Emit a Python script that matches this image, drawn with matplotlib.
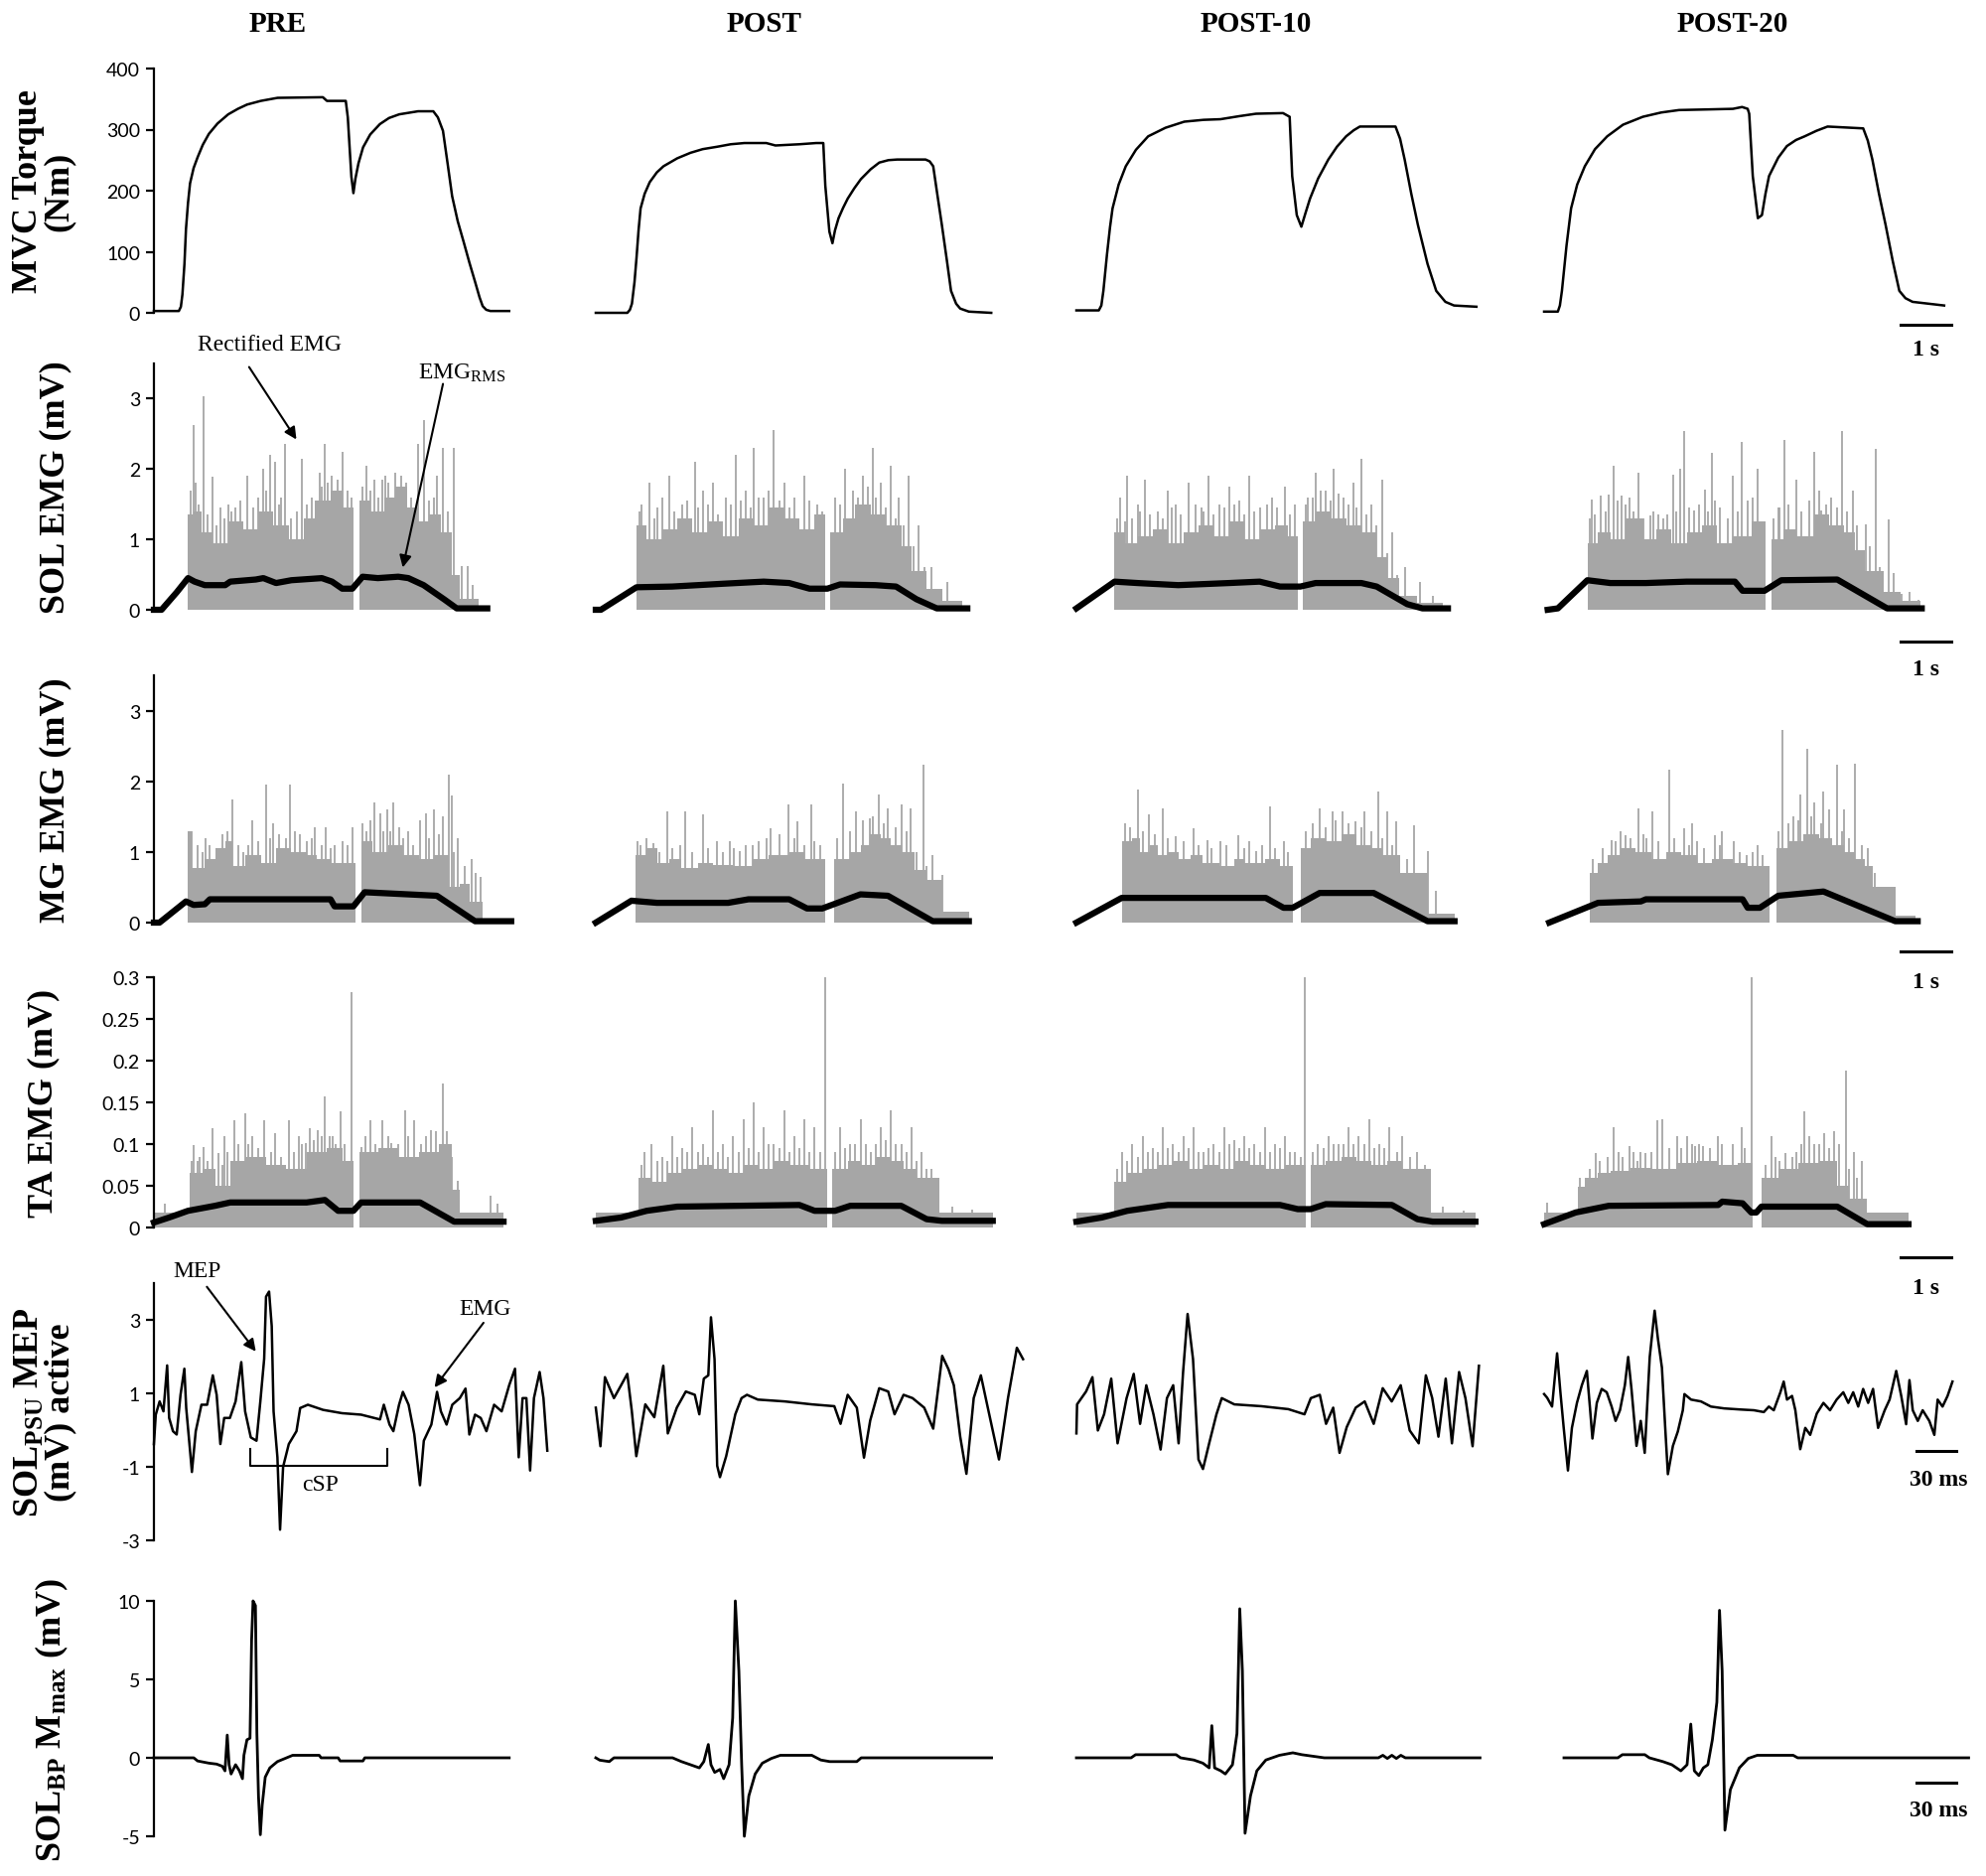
import numpy as np
import matplotlib.pyplot as plt

plt.rcParams['font.family'] = ['Lato', 'DejaVu Sans']
plt.rcParams['mathtext.fontset'] = 'custom'
plt.rcParams['mathtext.rm'] = 'Liberation Serif'
plt.rcParams['mathtext.bf'] = 'Liberation Serif:bold'
plt.rcParams['mathtext.it'] = 'Liberation Serif:italic'

conditions = ['PRE', 'POST', 'POST-10', 'POST-20']

# MVC torque traces (time s, torque Nm)
torque = [
    [(0, 3), (0.49, 3), (0.53, 10), (0.56, 30), (0.6, 80), (0.63, 137), (0.67, 180), (0.71, 212),
     (0.78, 237), (0.86, 255), (0.96, 275), (1.08, 293), (1.25, 310), (1.46, 325), (1.65, 334),
     (1.83, 341), (2.1, 347), (2.43, 352), (3.32, 353), (3.40, 347), (3.77, 347), (3.81, 320),
     (3.88, 223), (3.92, 196), (3.96, 220), (4.02, 245), (4.11, 271), (4.25, 292), (4.44, 309),
     (4.62, 319), (4.82, 325), (5.19, 330), (5.49, 330), (5.58, 320), (5.68, 298), (5.77, 245),
     (5.86, 191), (5.97, 150), (6.09, 115), (6.2, 82), (6.31, 51), (6.4, 25), (6.46, 11), (6.53, 5),
     (6.61, 3), (6.98, 3)],
    [(0, 0), (0.62, 0), (0.67, 5), (0.71, 15), (0.76, 50), (0.80, 90), (0.84, 135), (0.88, 171),
     (0.96, 195), (1.06, 214), (1.2, 230), (1.33, 240), (1.6, 253), (1.86, 262), (2.1, 268),
     (2.39, 272), (2.65, 276), (2.92, 278), (3.35, 278), (3.53, 274), (4.0, 276), (4.33, 278),
     (4.47, 278), (4.51, 208), (4.59, 133), (4.65, 114), (4.7, 135), (4.77, 155), (4.86, 172),
     (4.95, 187), (5.08, 204), (5.21, 219), (5.4, 235), (5.57, 246), (5.75, 250), (5.92, 251),
     (6.48, 251), (6.56, 248), (6.63, 240), (6.7, 200), (6.80, 144), (6.9, 85), (6.98, 36),
     (7.08, 15), (7.16, 7), (7.33, 2), (7.77, 0)],
    [(0, 4), (0.44, 4), (0.49, 12), (0.53, 36), (0.6, 95), (0.66, 140), (0.71, 171), (0.83, 210),
     (0.97, 240), (1.17, 267), (1.41, 289), (1.75, 303), (2.12, 313), (2.5, 316), (2.83, 317),
     (3.2, 322), (3.53, 326), (4.06, 327), (4.19, 321), (4.24, 224), (4.33, 160), (4.42, 141),
     (4.5, 163), (4.59, 187), (4.75, 220), (4.95, 251), (5.12, 272), (5.30, 289), (5.45, 299),
     (5.57, 305), (6.27, 305), (6.36, 285), (6.45, 251), (6.58, 195), (6.71, 144), (6.9, 80),
     (7.07, 36), (7.25, 18), (7.42, 12), (7.86, 10)],
    [(0, 2), (0.27, 2), (0.31, 12), (0.35, 36), (0.44, 110), (0.53, 171), (0.65, 210), (0.80, 240),
     (1.0, 268), (1.24, 289), (1.55, 308), (1.94, 321), (2.3, 328), (2.65, 332), (3.2, 333),
     (3.71, 334), (3.89, 337), (4.0, 334), (4.03, 326), (4.10, 224), (4.20, 155), (4.28, 160),
     (4.35, 195), (4.42, 224), (4.6, 254), (4.77, 273), (4.95, 283), (5.12, 289), (5.35, 298),
     (5.57, 305), (6.27, 302), (6.36, 282), (6.45, 251), (6.58, 195), (6.71, 144), (6.85, 85),
     (6.98, 36), (7.1, 24), (7.24, 18), (7.86, 12)],
]

# SOL EMG: rectified EMG body (step edges s / heights mV), spikes (s, mV), RMS envelope (s, mV)
sol_edges = [
    [0.67, 0.78, 0.93, 1.16, 1.46, 1.75, 2.05, 2.35, 2.65, 2.95, 3.17, 3.47, 3.7, 3.92, 4.03, 4.26,
     4.52, 4.74, 4.97, 5.19, 5.41, 5.64, 5.86, 6.01, 6.39],
    [0.8, 1.0, 1.3, 1.6, 1.9, 2.2, 2.5, 2.8, 3.1, 3.4, 3.7, 4.0, 4.3, 4.5, 4.6, 4.85, 5.1, 5.4, 5.7,
     6.0, 6.2, 6.5, 6.8, 7.2],
    [0.75, 0.95, 1.2, 1.5, 1.8, 2.1, 2.4, 2.7, 3.0, 3.3, 3.6, 3.9, 4.15, 4.35, 4.45, 4.7, 5.0, 5.3,
     5.6, 5.9, 6.1, 6.35, 6.7, 7.2],
    [0.85, 1.05, 1.3, 1.6, 1.95, 2.2, 2.5, 2.8, 3.1, 3.4, 3.7, 4.07, 4.36, 4.46, 4.7, 4.95, 5.3, 5.6,
     5.9, 6.1, 6.3, 6.67, 7.0, 7.4],
]
sol_heights = [
    [1.35, 1.4, 1.1, 0.95, 1.25, 1.15, 1.4, 1.2, 1.0, 1.3, 1.55, 1.7, 1.45, 0, 1.55, 1.4, 1.6, 1.75,
     1.45, 1.25, 1.35, 1.1, 0.5, 0.15],
    [1.2, 1.0, 1.15, 1.3, 1.1, 1.25, 1.05, 1.3, 1.2, 1.45, 1.3, 1.15, 1.35, 0, 1.1, 1.3, 1.5, 1.35,
     1.2, 0.9, 0.55, 0.3, 0.12],
    [1.1, 0.95, 1.05, 1.15, 0.95, 1.1, 1.2, 1.05, 1.25, 1.0, 1.15, 1.2, 1.05, 0, 1.25, 1.4, 1.3, 1.2,
     1.1, 0.75, 0.45, 0.2, 0.1],
    [0.95, 1.1, 1.0, 1.3, 1.0, 1.15, 0.95, 1.1, 1.2, 0.95, 1.05, 1.25, 0, 1.0, 1.15, 1.05, 1.35, 1.2,
     1.1, 0.85, 0.55, 0.25, 0.12],
]
sol_spikes = [
    [(0.78, 2.62), (0.82, 1.8), (0.97, 3.03), (1.16, 1.89), (1.3, 1.45), (1.46, 1.5), (1.6, 1.45),
     (1.84, 1.9), (2.14, 2.0), (2.28, 2.2), (2.39, 2.1), (2.5, 1.6), (2.58, 2.35), (2.91, 2.15),
     (3.25, 1.95), (3.36, 2.35), (3.5, 1.9), (3.7, 2.25), (3.88, 1.6), (4.18, 2.05), (4.33, 1.85),
     (4.48, 1.85), (4.6, 1.8), (4.74, 1.95), (5.19, 2.35), (5.3, 2.7), (5.56, 1.9), (5.67, 2.3),
     (5.9, 2.3), (6.05, 0.62), (6.16, 0.62), (6.27, 0.35),
     (0.72, 1.7), (0.88, 1.5), (1.05, 1.35), (1.22, 1.2), (1.38, 1.3), (1.52, 1.4), (1.7, 1.55),
     (1.95, 1.45), (2.05, 1.6), (2.2, 1.7), (2.45, 1.5), (2.7, 1.3), (2.8, 1.4), (3.0, 1.5), (3.1, 1.6),
     (3.3, 1.75), (3.42, 1.8), (3.6, 1.85), (3.8, 1.7), (4.1, 1.75), (4.25, 1.7), (4.4, 1.6),
     (4.55, 1.9), (4.85, 1.9), (4.95, 1.8), (5.05, 1.6), (5.4, 1.55), (5.5, 1.6), (5.78, 1.4)],
    [(0.9, 1.5), (1.05, 1.8), (1.3, 1.6), (1.45, 1.9), (1.7, 1.5), (1.95, 2.1), (2.1, 1.7), (2.3, 1.8),
     (2.55, 1.6), (2.75, 2.2), (2.95, 1.7), (3.1, 2.3), (3.3, 1.6), (3.5, 2.55), (3.7, 1.8), (3.9, 1.6),
     (4.1, 1.9), (4.35, 1.5), (4.7, 1.6), (4.9, 2.0), (5.05, 1.7), (5.25, 1.9), (5.45, 2.3), (5.6, 1.8),
     (5.8, 2.05), (5.95, 1.6), (6.15, 1.9), (6.35, 1.2), (6.6, 0.6), (6.9, 0.4),
     (0.85, 1.4), (1.15, 1.3), (1.2, 1.45), (1.55, 1.4), (1.8, 1.55), (2.0, 1.45), (2.2, 1.5),
     (2.4, 1.35), (2.65, 1.5), (2.85, 1.55), (3.05, 1.45), (3.2, 1.6), (3.4, 1.7), (3.6, 1.55),
     (3.8, 1.45), (4.2, 1.55), (4.45, 1.4), (4.8, 1.5), (5.15, 1.6), (5.35, 1.75), (5.5, 1.6),
     (5.7, 1.45), (5.9, 1.3), (6.05, 1.2), (6.25, 0.9), (6.45, 0.6), (6.75, 0.3)],
    [(0.85, 1.6), (1.0, 1.9), (1.2, 1.5), (1.35, 1.85), (1.6, 1.4), (1.8, 1.7), (1.95, 1.5), (2.2, 1.8),
     (2.45, 1.45), (2.6, 1.9), (2.8, 1.5), (3.0, 1.75), (3.2, 1.55), (3.4, 1.9), (3.6, 1.45), (3.85, 1.6),
     (4.1, 1.75), (4.3, 1.5), (4.55, 1.6), (4.7, 1.95), (4.9, 1.7), (5.05, 2.0), (5.25, 1.6), (5.45, 1.8),
     (5.6, 2.15), (5.8, 1.5), (6.0, 1.85), (6.2, 1.1), (6.45, 0.6), (6.75, 0.4), (7.0, 0.2),
     (0.8, 1.3), (0.95, 1.25), (1.1, 1.3), (1.25, 1.4), (1.45, 1.35), (1.7, 1.3), (1.88, 1.45),
     (2.05, 1.35), (2.35, 1.5), (2.5, 1.4), (2.7, 1.35), (2.9, 1.45), (3.1, 1.5), (3.3, 1.35),
     (3.5, 1.4), (3.75, 1.5), (3.95, 1.45), (4.2, 1.35), (4.5, 1.5), (4.65, 1.6), (4.8, 1.7),
     (5.0, 1.55), (5.15, 1.65), (5.35, 1.5), (5.5, 1.45), (5.7, 1.35), (5.9, 1.2), (6.1, 0.8),
     (6.3, 0.5)],
    [(0.94, 1.57), (1.11, 1.62), (1.27, 1.64), (1.37, 2.04), (1.52, 1.62), (1.68, 1.6), (1.85, 1.95),
     (2.09, 1.34), (2.25, 1.36), (2.41, 1.36), (2.54, 1.92), (2.67, 2.0), (2.76, 2.54), (2.95, 1.41),
     (3.16, 1.71), (3.29, 2.23), (3.45, 1.46), (3.71, 1.9), (3.88, 2.39), (4.2, 2.0), (4.3, 1.24),
     (4.62, 1.46), (4.72, 2.42), (4.95, 1.85), (5.31, 2.25), (5.44, 1.41), (5.63, 1.6), (5.86, 2.54),
     (6.06, 1.69), (6.32, 1.22), (6.51, 2.28), (6.77, 1.29), (6.87, 0.52), (7.03, 0.23), (7.19, 0.26),
     (7.36, 0.14),
     (0.9, 1.3), (1.0, 1.35), (1.2, 1.4), (1.45, 1.55), (1.6, 1.5), (1.75, 1.4), (1.95, 1.3),
     (2.15, 1.4), (2.35, 1.3), (2.6, 1.4), (2.85, 1.45), (3.05, 1.5), (3.22, 1.4), (3.35, 1.55),
     (3.6, 1.3), (3.8, 1.4), (4.0, 1.55), (4.1, 1.6), (4.5, 1.3), (4.6, 1.45), (4.8, 1.5), (5.05, 1.4),
     (5.2, 1.55), (5.4, 1.7), (5.55, 1.5), (5.75, 1.45), (5.95, 1.4), (6.15, 1.2), (6.4, 0.9),
     (6.6, 0.6)],
]
sol_rms = [
    [(0, 0), (0.15, 0), (0.45, 0.25), (0.67, 0.45), (0.8, 0.4), (1.0, 0.35), (1.4, 0.35), (1.5, 0.4),
     (2.0, 0.43), (2.15, 0.45), (2.4, 0.38), (2.7, 0.42), (3.3, 0.45), (3.5, 0.4), (3.7, 0.3), (3.9, 0.3),
     (4.1, 0.47), (4.4, 0.45), (4.8, 0.47), (5.0, 0.45), (5.3, 0.35), (5.7, 0.15), (5.95, 0.02), (6.55, 0.02)],
    [(0, 0), (0.1, 0), (0.8, 0.32), (1.5, 0.33), (2.5, 0.37), (3.3, 0.4), (3.8, 0.38), (4.2, 0.3),
     (4.55, 0.3), (4.8, 0.36), (5.5, 0.35), (5.9, 0.33), (6.3, 0.15), (6.7, 0.02), (7.3, 0.02)],
    [(0, 0.02), (0.75, 0.4), (1.2, 0.38), (2.0, 0.35), (3.0, 0.38), (3.6, 0.4), (4.0, 0.33), (4.4, 0.33),
     (4.7, 0.38), (5.6, 0.38), (5.9, 0.33), (6.5, 0.08), (6.8, 0.02), (7.3, 0.02)],
    [(0.07, 0), (0.27, 0.02), (0.85, 0.42), (1.3, 0.38), (2.0, 0.38), (2.8, 0.4), (3.75, 0.4), (3.9, 0.27),
     (4.33, 0.27), (4.66, 0.42), (5.76, 0.43), (6.74, 0.02), (7.42, 0.02)],
]

# MG EMG
mg_edges = [
    [0.67, 0.75, 1.0, 1.2, 1.4, 1.55, 1.8, 2.1, 2.4, 2.7, 3.0, 3.2, 3.5, 3.96, 4.07, 4.3, 4.6, 4.9, 5.2,
     5.5, 5.8, 6.0, 6.2, 6.45],
    [0.79, 1.0, 1.2, 1.45, 1.67, 2.0, 2.3, 2.7, 3.09, 3.4, 3.8, 4.1, 4.5, 4.68, 5.0, 5.2, 5.38, 5.6, 5.8,
     6.0, 6.27, 6.5, 6.8, 7.33],
    [0.89, 1.1, 1.25, 1.45, 1.6, 1.8, 2.0, 2.25, 2.48, 2.8, 3.1, 3.3, 3.7, 4.0, 4.25, 4.4, 4.6, 4.9, 5.2,
     5.5, 5.8, 6.0, 6.37, 6.9, 7.43],
    [0.89, 1.05, 1.25, 1.5, 1.8, 2.1, 2.4, 2.7, 3.01, 3.3, 3.7, 4.0, 4.42, 4.56, 4.8, 5.1, 5.4, 5.66,
     5.9, 6.1, 6.3, 6.46, 6.9, 7.3],
]
mg_heights = [
    [1.3, 0.78, 0.9, 1.05, 1.15, 0.8, 0.95, 0.85, 1.05, 1.0, 0.95, 0.9, 0.85, 0, 1.15, 1.0, 1.1, 0.95,
     0.9, 0.95, 0.5, 0.55, 0.3],
    [0.95, 1.05, 0.85, 0.9, 0.78, 0.85, 0.82, 0.8, 0.9, 0.95, 1.0, 0.9, 0, 0.9, 1.0, 1.1, 1.25, 1.2,
     1.1, 1.0, 0.75, 0.6, 0.15],
    [1.15, 1.2, 1.0, 1.1, 0.95, 1.0, 0.9, 0.95, 0.85, 0.8, 0.9, 0.85, 0.9, 0.8, 0, 1.05, 1.2, 1.15,
     1.25, 1.1, 1.05, 0.95, 0.7, 0.12],
    [0.7, 0.85, 0.95, 1.05, 1.0, 0.9, 1.0, 0.95, 0.85, 0.9, 0.85, 0.8, 0, 1.05, 1.15, 1.25, 1.2, 1.1,
     1.0, 0.9, 0.8, 0.5, 0.1],
]
mg_spikes = [
    [(0.75, 1.3), (0.86, 1.1), (1.01, 1.2), (1.27, 1.0), (1.55, 1.75), (1.76, 1.0), (1.93, 1.45),
     (2.2, 1.95), (2.34, 1.4), (2.5, 1.0), (2.67, 1.95), (2.86, 1.25), (3.17, 1.35), (3.38, 1.35),
     (3.55, 1.1), (3.7, 1.15), (3.9, 1.35), (4.18, 1.3), (4.33, 1.7), (4.44, 1.55), (4.58, 1.6),
     (4.7, 1.7), (4.82, 1.35), (5.0, 1.3), (5.23, 1.45), (5.34, 1.55), (5.51, 1.6), (5.68, 1.5),
     (5.79, 2.1), (5.85, 1.8), (5.97, 1.2), (6.24, 0.9), (6.42, 0.65),
     (0.7, 1.1), (0.95, 1.0), (1.1, 1.1), (1.35, 1.25), (1.45, 1.3), (1.65, 1.1), (1.85, 1.1),
     (2.05, 1.15), (2.28, 1.2), (2.45, 1.25), (2.6, 1.2), (2.78, 1.3), (3.0, 1.15), (3.1, 1.2),
     (3.3, 1.1), (3.48, 1.05), (3.8, 1.1), (4.1, 1.4), (4.25, 1.45), (4.5, 1.3), (4.65, 1.3),
     (4.9, 1.2), (5.1, 1.1), (5.4, 1.2), (5.6, 1.25), (5.9, 1.0), (6.1, 0.8), (6.32, 0.7)],
    [(0.88, 1.1), (1.14, 1.13), (1.41, 1.57), (1.76, 1.57), (2.11, 1.53), (2.38, 1.15), (2.64, 1.15),
     (2.82, 1.01), (3.09, 1.1), (3.44, 1.34), (3.79, 1.67), (3.97, 1.43), (4.23, 1.67), (4.41, 1.1),
     (4.85, 1.97), (5.12, 1.57), (5.38, 1.48), (5.56, 1.81), (5.74, 1.62), (6.0, 1.67), (6.18, 1.62),
     (6.44, 2.23), (6.62, 0.96), (6.8, 0.68),
     (0.82, 1.15), (1.0, 1.2), (1.25, 1.0), (1.5, 1.05), (1.65, 1.1), (1.9, 1.0), (2.2, 1.05),
     (2.5, 1.0), (2.72, 1.05), (2.95, 1.1), (3.2, 1.15), (3.35, 1.2), (3.6, 1.25), (3.9, 1.2),
     (4.1, 1.1), (4.3, 1.15), (4.75, 1.2), (5.0, 1.3), (5.25, 1.45), (5.45, 1.5), (5.65, 1.4),
     (5.9, 1.35), (6.1, 1.3), (6.3, 1.0), (6.5, 0.8)],
    [(1.21, 1.88), (1.42, 1.53), (1.69, 1.62), (1.95, 1.22), (2.3, 1.34), (2.57, 1.17), (2.83, 1.15),
     (3.19, 1.24), (3.54, 1.01), (3.8, 1.64), (4.07, 1.15), (4.78, 1.62), (5.04, 1.57), (5.22, 1.57),
     (5.49, 1.43), (5.66, 1.57), (5.93, 1.85), (6.1, 1.57), (6.28, 1.43), (6.63, 1.38), (6.9, 1.01),
     (7.07, 0.45),
     (0.95, 1.4), (1.05, 1.35), (1.3, 1.3), (1.55, 1.25), (1.8, 1.2), (2.1, 1.15), (2.4, 1.1),
     (2.65, 1.05), (2.95, 1.1), (3.3, 1.05), (3.4, 1.15), (3.65, 1.1), (3.9, 1.05), (4.15, 1.0),
     (4.5, 1.3), (4.65, 1.4), (4.9, 1.35), (5.1, 1.45), (5.35, 1.4), (5.6, 1.35), (5.8, 1.3),
     (6.0, 1.2), (6.2, 1.1), (6.5, 0.9), (6.75, 0.7)],
    [(1.07, 0.77), (1.33, 1.17), (1.5, 1.3), (1.6, 1.24), (1.86, 1.62), (2.0, 1.2), (2.13, 1.57),
     (2.45, 2.16), (2.75, 1.34), (2.9, 1.4), (3.01, 1.15), (3.36, 1.24), (3.5, 1.3), (3.72, 1.15),
     (3.98, 0.96), (4.2, 1.1), (4.68, 2.72), (4.9, 1.5), (5.04, 1.81), (5.17, 2.46), (5.3, 1.7),
     (5.49, 1.85), (5.75, 2.23), (5.9, 1.6), (6.1, 2.25), (6.37, 1.06), (6.73, 0.49),
     (0.95, 0.9), (1.15, 1.05), (1.4, 1.15), (1.7, 1.2), (1.95, 1.25), (2.25, 1.15), (2.55, 1.2),
     (2.85, 1.1), (3.15, 1.05), (3.45, 1.1), (3.85, 1.0), (4.1, 1.0), (4.3, 0.95), (4.6, 1.3),
     (4.8, 1.4), (5.0, 1.45), (5.25, 1.5), (5.45, 1.4), (5.6, 1.6), (5.85, 1.3), (6.0, 1.2),
     (6.25, 1.1), (6.5, 0.7)],
]
mg_rms = [
    [(0, 0), (0.11, 0), (0.63, 0.3), (0.78, 0.25), (1.0, 0.26), (1.1, 0.33), (3.47, 0.33), (3.55, 0.23),
     (3.92, 0.23), (4.14, 0.43), (5.56, 0.38), (6.31, 0.02), (7.02, 0.02)],
    [(0, 0), (0.7, 0.31), (1.2, 0.28), (2.6, 0.28), (3.0, 0.33), (3.8, 0.33), (4.15, 0.2), (4.45, 0.2),
     (5.2, 0.4), (5.74, 0.38), (6.62, 0.02), (7.33, 0.02)],
    [(0, 0), (0.89, 0.35), (3.72, 0.35), (4.07, 0.21), (4.25, 0.21), (4.78, 0.42), (5.84, 0.42),
     (6.9, 0.02), (7.43, 0.02)],
    [(0.1, 0), (1.06, 0.28), (1.9, 0.3), (2.0, 0.33), (3.9, 0.33), (4.0, 0.21), (4.24, 0.21), (4.6, 0.38),
     (5.49, 0.44), (6.9, 0.02), (7.34, 0.02)],
]

# TA EMG
ta_edges = [
    [0.0, 0.71, 0.95, 1.2, 1.5, 1.8, 2.2, 2.6, 3.0, 3.4, 3.7, 3.92, 4.03, 4.4, 4.8, 5.2, 5.6, 5.85, 6.0,
     6.87],
    [0.0, 0.83, 1.1, 1.4, 1.7, 2.0, 2.3, 2.6, 2.9, 3.2, 3.5, 3.8, 4.2, 4.55, 4.65, 4.95, 5.2, 5.5, 5.8,
     6.05, 6.3, 6.75, 7.8],
    [0.0, 0.75, 1.0, 1.3, 1.6, 1.9, 2.2, 2.5, 2.8, 3.1, 3.4, 3.7, 4.1, 4.5, 4.6, 4.9, 5.2, 5.5, 5.8,
     6.1, 6.4, 6.97, 7.84],
    [0.0, 0.66, 0.8, 1.05, 1.3, 1.7, 2.1, 2.6, 3.0, 3.42, 3.8, 4.1, 4.27, 4.6, 5.0, 5.4, 5.76, 6.0,
     6.35, 7.16],
]
ta_heights = [
    [0.018, 0.065, 0.07, 0.05, 0.08, 0.085, 0.075, 0.07, 0.09, 0.095, 0.08, 0, 0.09, 0.095, 0.085,
     0.09, 0.1, 0.045, 0.018],
    [0.018, 0.06, 0.055, 0.065, 0.07, 0.075, 0.07, 0.065, 0.075, 0.07, 0.08, 0.075, 0.07, 0, 0.07,
     0.08, 0.075, 0.085, 0.08, 0.07, 0.06, 0.018],
    [0.018, 0.055, 0.065, 0.07, 0.075, 0.08, 0.07, 0.075, 0.07, 0.08, 0.075, 0.07, 0.075, 0, 0.075,
     0.08, 0.085, 0.08, 0.075, 0.08, 0.07, 0.018],
    [0.018, 0.049, 0.06, 0.065, 0.068, 0.072, 0.07, 0.077, 0.08, 0.075, 0.077, 0, 0.06, 0.07, 0.077,
     0.08, 0.05, 0.034, 0.018],
]
ta_spikes = [
    [(0.22, 0.028), (0.78, 0.099), (0.86, 0.08), (0.97, 0.097), (1.16, 0.119), (1.27, 0.089),
     (1.38, 0.109), (1.58, 0.129), (1.79, 0.137), (1.94, 0.109), (2.17, 0.129), (2.39, 0.113),
     (2.65, 0.129), (2.84, 0.109), (2.99, 0.101), (3.06, 0.119), (3.21, 0.117), (3.36, 0.157),
     (3.51, 0.109), (3.66, 0.139), (3.88, 0.282), (4.07, 0.097), (4.26, 0.129), (4.48, 0.129),
     (4.67, 0.101), (4.93, 0.141), (5.12, 0.129), (5.45, 0.117), (5.68, 0.173), (5.86, 0.085),
     (5.97, 0.056), (6.61, 0.038), (6.76, 0.028),
     (0.75, 0.08), (0.9, 0.085), (1.05, 0.08), (1.35, 0.075), (1.45, 0.09), (1.65, 0.1), (1.85, 0.1),
     (2.05, 0.095), (2.3, 0.09), (2.5, 0.085), (2.75, 0.09), (2.9, 0.1), (3.15, 0.105), (3.3, 0.11),
     (3.45, 0.11), (3.58, 0.1), (3.75, 0.1), (4.15, 0.11), (4.35, 0.1), (4.6, 0.11), (4.8, 0.1),
     (5.0, 0.11), (5.25, 0.1), (5.35, 0.11), (5.55, 0.115), (5.75, 0.115)],
    [(0.95, 0.09), (1.1, 0.1), (1.3, 0.085), (1.5, 0.11), (1.7, 0.095), (1.9, 0.12), (2.1, 0.1),
     (2.3, 0.14), (2.5, 0.1), (2.7, 0.11), (2.9, 0.13), (3.1, 0.15), (3.3, 0.12), (3.5, 0.1), (3.7, 0.14),
     (3.9, 0.11), (4.1, 0.13), (4.3, 0.12), (4.5, 0.3), (4.8, 0.12), (5.0, 0.1), (5.2, 0.13), (5.4, 0.09),
     (5.6, 0.12), (5.8, 0.14), (6.0, 0.1), (6.2, 0.12), (6.4, 0.09), (6.6, 0.07), (7.0, 0.025),
     (7.4, 0.022),
     (0.9, 0.075), (1.2, 0.08), (1.4, 0.08), (1.6, 0.085), (1.8, 0.09), (2.0, 0.09), (2.2, 0.085),
     (2.4, 0.09), (2.6, 0.085), (2.8, 0.09), (3.0, 0.095), (3.2, 0.09), (3.4, 0.1), (3.6, 0.095),
     (3.8, 0.09), (4.0, 0.095), (4.2, 0.09), (4.4, 0.09), (4.7, 0.09), (4.9, 0.095), (5.1, 0.1),
     (5.3, 0.1), (5.5, 0.1), (5.7, 0.105), (5.9, 0.1), (6.1, 0.09), (6.3, 0.08), (6.5, 0.07)],
    [(0.9, 0.09), (1.1, 0.1), (1.3, 0.11), (1.5, 0.095), (1.7, 0.12), (1.9, 0.1), (2.1, 0.11),
     (2.3, 0.12), (2.5, 0.09), (2.7, 0.1), (2.9, 0.12), (3.1, 0.105), (3.3, 0.11), (3.5, 0.1), (3.7, 0.12),
     (3.9, 0.1), (4.1, 0.11), (4.3, 0.09), (4.48, 0.3), (4.75, 0.1), (4.95, 0.11), (5.15, 0.1),
     (5.35, 0.12), (5.55, 0.11), (5.75, 0.13), (5.95, 0.1), (6.15, 0.12), (6.4, 0.11), (6.7, 0.09),
     (7.2, 0.025), (7.6, 0.02),
     (0.8, 0.07), (1.0, 0.08), (1.2, 0.085), (1.4, 0.09), (1.6, 0.09), (1.8, 0.095), (2.0, 0.09),
     (2.2, 0.095), (2.4, 0.09), (2.6, 0.095), (2.8, 0.09), (3.0, 0.1), (3.2, 0.095), (3.4, 0.095),
     (3.6, 0.09), (3.8, 0.09), (4.0, 0.095), (4.2, 0.09), (4.4, 0.085), (4.65, 0.09), (4.85, 0.095),
     (5.05, 0.1), (5.25, 0.1), (5.45, 0.1), (5.65, 0.1), (5.85, 0.095), (6.05, 0.095), (6.3, 0.09),
     (6.55, 0.085), (6.85, 0.075)],
    [(0.05, 0.03), (1.01, 0.089), (1.37, 0.12), (1.47, 0.09), (1.67, 0.098), (1.83, 0.08), (1.99, 0.089),
     (2.22, 0.128), (2.32, 0.13), (2.61, 0.11), (2.8, 0.109), (2.97, 0.098), (3.13, 0.098), (3.42, 0.109),
     (3.88, 0.12), (4.07, 0.3), (4.46, 0.11), (4.62, 0.08), (4.75, 0.089), (4.88, 0.085), (5.11, 0.139),
     (5.21, 0.11), (5.5, 0.113), (5.7, 0.115), (5.93, 0.188), (6.09, 0.09), (6.25, 0.08),
     (0.7, 0.06), (0.9, 0.07), (1.1, 0.08), (1.25, 0.085), (1.55, 0.085), (1.75, 0.09), (1.9, 0.09),
     (2.1, 0.09), (2.45, 0.095), (2.7, 0.095), (2.9, 0.1), (3.05, 0.1), (3.25, 0.095), (3.5, 0.1),
     (3.7, 0.1), (3.95, 0.095), (4.35, 0.075), (4.55, 0.085), (4.95, 0.09), (5.05, 0.1), (5.3, 0.1),
     (5.4, 0.1), (5.6, 0.095), (5.8, 0.1), (6.0, 0.07), (6.15, 0.06)],
]
ta_rms = [
    [(0, 0.006), (0.3, 0.012), (0.67, 0.02), (1.2, 0.026), (1.5, 0.03), (3.0, 0.03), (3.36, 0.033),
     (3.62, 0.02), (3.92, 0.02), (4.07, 0.03), (5.23, 0.03), (5.9, 0.007), (6.87, 0.007)],
    [(0, 0.008), (0.5, 0.012), (1.0, 0.02), (1.6, 0.025), (4.0, 0.027), (4.3, 0.02), (4.7, 0.02),
     (5.0, 0.026), (6.0, 0.026), (6.5, 0.01), (6.8, 0.008), (7.8, 0.008)],
    [(0, 0.007), (0.5, 0.012), (1.0, 0.02), (1.8, 0.027), (4.0, 0.027), (4.35, 0.022), (4.6, 0.022),
     (4.9, 0.028), (6.2, 0.027), (6.7, 0.01), (7.0, 0.007), (7.84, 0.007)],
    [(0, 0.004), (0.62, 0.018), (1.27, 0.026), (3.42, 0.027), (3.5, 0.031), (3.9, 0.029), (4.07, 0.018),
     (4.17, 0.018), (4.27, 0.025), (5.76, 0.025), (6.35, 0.004), (7.16, 0.004)],
]

# SOL MEP during active contraction (ms, mV)
mep = [
    [(0, -0.38), (1.4, 0.42), (4.3, 0.78), (7.2, 0.51), (10.0, 1.76), (11.5, 0.33), (14.4, -0.03),
     (17.2, -0.12), (20.1, 0.96), (23.0, 1.67), (24.4, 0.6), (27.3, -0.56), (28.7, -1.14), (31.6, -0.03),
     (35.9, 0.69), (40.2, 0.69), (44.5, 1.49), (47.4, 0.96), (50.2, -0.38), (53.1, 0.33), (57.4, 0.33),
     (61.7, 0.78), (66.0, 1.85), (68.9, 0.51), (73.2, -0.2), (77.5, -0.29), (80.4, 0.78), (83.3, 1.94),
     (84.7, 3.63), (87.0, 3.77), (89.0, 2.83), (90.4, 0.51), (93.3, -0.74), (95.3, -2.71), (97.6, -1.0),
     (101.9, -0.38), (107.7, -0.03), (110.5, 0.6), (116.3, 0.69), (127.8, 0.55), (142.1, 0.46),
     (156.5, 0.42), (170.8, 0.29), (173.7, 0.69), (178.0, 0.15), (180.9, -0.03), (185.2, 0.69),
     (188.1, 1.04), (192.4, 0.69), (196.7, -0.11), (201.0, -1.5), (203.9, -0.29), (209.6, 0.15),
     (213.9, 1.04), (216.8, 0.51), (221.1, 0.15), (225.4, 0.69), (231.1, 0.87), (235.4, 1.13),
     (238.3, -0.12), (242.6, 0.42), (246.9, 0.33), (251.2, -0.03), (257.0, 0.69), (262.7, 0.51),
     (268.4, 1.22), (272.8, 1.67), (275.6, -0.74), (278.5, 0.87), (281.4, 0.87), (284.2, -1.1),
     (287.1, 0.87), (291.4, 1.58), (294.3, 0.87), (297.2, -0.56)],
    [(0, 0.61), (3.5, -0.44), (6.9, 1.44), (13.7, 0.87), (19.1, 1.22), (23.8, 1.53), (27.2, 0.52),
     (30.6, -0.71), (37.4, 0.7), (44.2, 0.35), (51.0, 1.75), (54.4, -0.09), (61.2, 0.61), (68.0, 1.05),
     (74.8, 0.96), (78.2, 0.43), (81.6, 1.4), (85.0, 1.49), (87.0, 3.07), (89.7, 1.93), (91.7, -0.97),
     (93.8, -1.28), (98.5, -0.71), (105.4, 0.43), (110.1, 0.87), (114.2, 0.96), (122.4, 0.83),
     (142.8, 0.78), (163.2, 0.7), (180.2, 0.65), (184.9, 0.17), (190.3, 0.96), (197.2, 0.61),
     (202.6, -0.75), (207.3, 0.26), (214.1, 1.14), (220.9, 1.05), (225.7, 0.43), (232.5, 0.96),
     (239.3, 0.87), (248.1, 0.61), (254.9, 0.04), (261.7, 2.02), (266.4, 1.66), (270.5, 1.22),
     (275.3, -0.18), (280.0, -1.19), (285.5, 0.87), (290.9, 1.49), (295.6, 0.7), (304.6, -0.8),
     (311.4, 0.87), (318.1, 2.24), (322.8, 1.93)],
    [(0, -0.09), (0.5, 0.7), (7.3, 1.05), (12.1, 1.44), (16.2, -0.01), (20.9, 0.43), (26.3, 1.4),
     (31.1, -0.36), (37.9, 0.87), (43.3, 1.53), (48.1, 0.17), (52.8, 1.22), (58.2, 0.43), (63.6, -0.53),
     (68.4, 0.87), (73.1, 1.22), (77.2, -0.36), (80.6, 1.58), (84.0, 3.16), (88.1, 1.93), (92.2, -0.8),
     (95.6, -1.06), (100.3, -0.36), (105.8, 0.43), (109.8, 0.87), (119.3, 0.7), (139.7, 0.65),
     (160.1, 0.57), (172.3, 0.43), (177.1, 0.87), (183.9, 0.96), (188.6, 0.17), (194.0, 0.61),
     (198.8, -0.62), (204.2, 0.08), (211.0, 0.61), (217.8, 0.78), (224.6, 0.17), (231.4, 1.14),
     (238.2, 0.78), (245.0, 1.22), (251.8, -0.01), (258.6, -0.36), (264.0, 1.49), (268.8, 0.87),
     (273.5, -0.18), (279.0, 1.4), (283.7, -0.36), (289.1, 1.58), (293.9, 0.87), (299.3, -0.44),
     (304.1, 1.75)],
    [(0, 0.98), (2.3, 0.88), (6, 0.64), (9.8, 2.09), (12.3, 1.03), (14.8, 0.06), (18, -1.1), (21, 0.06),
     (24.8, 0.74), (28.5, 1.22), (32.3, 1.61), (34.8, 0.54), (36.5, -0.23), (39.8, 0.74), (43.5, 1.12),
     (47.3, 1.03), (51, 0.64), (54, 0.25), (57.3, 0.54), (61, 1.22), (63.5, 1.99), (66, 1.12),
     (69.8, -0.43), (73, 0.25), (76, -0.62), (79.8, 1.99), (83.5, 3.25), (86, 2.48), (89, 1.7),
     (91.5, 0.06), (93.5, -1.2), (97.3, -0.43), (101, -0.04), (104.8, 0.54), (106, 0.98), (111, 0.83),
     (118.5, 0.78), (126, 0.64), (136, 0.59), (148.5, 0.56), (158.5, 0.54), (166, 0.49), (169.8, 0.64),
     (173.5, 0.54), (178.5, 1.03), (181, 1.32), (183.5, 0.83), (187.3, 0.93), (189.8, 0.54),
     (193.5, -0.52), (197.3, 0.06), (201, -0.13), (206, 0.45), (211, 0.74), (216, 0.54), (221, 0.83),
     (226, 1.03), (229.8, 0.74), (233.5, 1.03), (237.3, 0.64), (241, 1.12), (244.8, 0.74), (248.5, 1.12),
     (252.3, 0.06), (257.3, 0.54), (261, 0.83), (266, 1.61), (269.8, 0.93), (273.5, 0.16), (276, 1.36),
     (278.5, 0.54), (282.3, 0.25), (286, 0.54), (291, 0.25), (294.8, -0.13), (297.3, 0.83),
     (301, 0.64), (304.8, 0.93), (308.5, 1.32)],
]

# SOL Mmax (ms, mV)
mmax = [
    [(0, 0), (30.1, 0), (33, -0.2), (41.6, -0.34), (47.4, -0.4), (51.7, -0.54), (53.7, -0.83),
     (55.4, 1.45), (56.8, -0.44), (58.3, -1.03), (61.7, -0.44), (64.6, -0.83), (66.9, -1.33), (68.0, 0.16),
     (70.3, 1.15), (72.6, 1.25), (73.8, 7.5), (74.9, 10.0), (76.7, 9.7), (77.8, 1.55), (79.0, -2.43),
     (80.4, -4.9), (81.8, -3.02), (84.1, -1.23), (87.6, -0.64), (93.3, -0.24), (104.8, 0.16),
     (124.9, 0.16), (126.3, 0), (139.2, 0), (140.7, -0.2), (157.9, -0.2), (159.3, 0), (268.4, 0)],
    [(0, 0), (3, -0.15), (10.2, -0.24), (13.7, 0), (58, 0), (64.7, -0.24), (71.5, -0.44), (78.2, -0.64),
     (81.6, -0.24), (85, 0.85), (87, -0.44), (89.8, -0.93), (93.8, -0.74), (96.6, -1.33), (100.7, -0.44),
     (103.4, 2.54), (105.4, 10.0), (108.1, 5.53), (110.2, -0.44), (112.2, -5.0), (115.6, -2.43),
     (120.4, -1.03), (125.8, -0.34), (132.6, -0.04), (139.4, 0.16), (163.2, 0.16), (170.0, -0.14),
     (176.8, -0.24), (197.2, -0.24), (200.5, 0), (299.0, 0)],
    [(0, 0), (41.3, 0), (44.7, 0.2), (75.3, 0.2), (78.7, 0), (88.7, -0.14), (95.5, -0.34), (100.3, -0.64),
     (102.3, 2.05), (104.4, -0.64), (109.1, -0.83), (112.5, -1.03), (117.9, -0.44), (121.3, 1.55),
     (123.4, 9.5), (125.4, 5.53), (127.4, -4.81), (131.5, -2.43), (136.3, -0.83), (143.1, -0.14),
     (153.3, 0.16), (163.5, 0.32), (170.3, 0.2), (187.3, 0), (228.1, 0), (231.5, 0.16), (234.9, -0.04),
     (238.3, 0.16), (241.7, -0.04), (245.1, 0.16), (248.5, 0), (304.9, 0)],
    [(15, 0), (55.7, 0), (59.1, 0.2), (76.1, 0.2), (79.5, 0), (89.7, -0.24), (96.5, -0.44), (103.3, -0.83),
     (108.0, -0.44), (110.8, 2.15), (113.5, -0.83), (116.9, -1.13), (120.3, -0.64), (123.7, -0.44),
     (127.1, 1.15), (130.5, 3.54), (132.5, 9.4), (134.5, 5.53), (136.6, -4.61), (140.7, -2.03),
     (147.5, -0.64), (154.2, -0.04), (161.0, 0.16), (188.2, 0.16), (191.6, 0), (320.7, 0)],
]

row_labels = ['MVC Torque\n(Nm)', 'SOL EMG (mV)', 'MG EMG (mV)', 'TA EMG (mV)',
              'SOL$_{\\mathbf{PSU}}$ MEP\n(mV) active', 'SOL$_{\\mathbf{BP}}$ M$_{\\mathbf{max}}$ (mV)']
row_ylims = [(0, 400), (0, 3.5), (0, 3.5), (0, 0.3), (-3, 4), (-5, 10)]
row_yticks = [[0, 100, 200, 300, 400], [0, 1, 2, 3], [0, 1, 2, 3],
              [0, 0.05, 0.1, 0.15, 0.2, 0.25, 0.3], [-3, -1, 1, 3], [-5, 0, 5, 10]]
row_yticklabels = [['0', '100', '200', '300', '400'], ['0', '1', '2', '3'], ['0', '1', '2', '3'],
                   ['0', '0.05', '0.1', '0.15', '0.2', '0.25', '0.3'], ['-3', '-1', '1', '3'],
                   ['-5', '0', '5', '10']]

GRAY = '#a6a6a6'
SERIF = 'Liberation Serif'
W, H = 2000, 1890
fig = plt.figure(figsize=(W / 100, H / 100), dpi=100)

col_left = [155, 600, 1084, 1555]
row_top = [70, 367, 681, 985, 1293, 1613]
row_bottom = [316, 615, 930, 1237, 1552, 1850]
AX_W = 440
SEC_PER_PX = 1 / 51.25
MS_PER_PX = 1 / 1.333
label_x = [44, 56, 56, 44, 46, 52]
title_x = [280, 770, 1265, 1745]


def px_axes(left, top, width, height):
    return fig.add_axes([left / W, 1 - (top + height) / H, width / W, height / H])


def draw_emg(ax, edges, heights, spikes, rms):
    ax.stairs(heights, edges, fill=True, color=GRAY, linewidth=0, clip_on=False)
    st, sv = zip(*spikes)
    ax.vlines(st, 0, sv, color=GRAY, linewidth=1.3, clip_on=False)
    rt, rv = zip(*rms)
    ax.plot(rt, rv, color='black', linewidth=4.5, clip_on=False)


axes = [[None] * 4 for _ in range(6)]
for r in range(6):
    for c in range(4):
        ax = px_axes(col_left[c], row_top[r], AX_W, row_bottom[r] - row_top[r])
        axes[r][c] = ax
        if r < 4:
            ax.set_xlim(0, AX_W * SEC_PER_PX)
        else:
            ax.set_xlim(0, AX_W * MS_PER_PX)
        ax.set_ylim(*row_ylims[r])
        for s in ['top', 'right', 'bottom']:
            ax.spines[s].set_visible(False)
        ax.set_xticks([])
        ax.patch.set_alpha(0)
        if c == 0:
            ax.spines['left'].set_linewidth(1.6)
            ax.set_yticks(row_yticks[r])
            ax.set_yticklabels(row_yticklabels[r])
            ax.tick_params(axis='y', direction='out', length=6, width=1.6, labelsize=14, pad=4)
        else:
            ax.spines['left'].set_visible(False)
            ax.set_yticks([])

        if r == 0:
            t, v = zip(*torque[c])
            ax.plot(t, v, color='black', linewidth=1.8, clip_on=False)
        elif r == 1:
            draw_emg(ax, sol_edges[c], sol_heights[c], sol_spikes[c], sol_rms[c])
        elif r == 2:
            draw_emg(ax, mg_edges[c], mg_heights[c], mg_spikes[c], mg_rms[c])
        elif r == 3:
            draw_emg(ax, ta_edges[c], ta_heights[c], ta_spikes[c], ta_rms[c])
        elif r == 4:
            t, v = zip(*mep[c])
            ax.plot(t, v, color='black', linewidth=1.8, clip_on=False)
        else:
            t, v = zip(*mmax[c])
            ax.plot(t, v, color='black', linewidth=2.0, clip_on=False)

# column titles and row labels
for c, name in enumerate(conditions):
    fig.text(title_x[c] / W, 1 - 25 / H, name, ha='center', va='center',
             family=SERIF, weight='bold', fontsize=21)
for r, lab in enumerate(row_labels):
    fig.text(label_x[r] / W, 1 - (row_top[r] + row_bottom[r]) / 2 / H, lab, rotation=90,
             ha='center', va='center', family=SERIF, weight='bold', fontsize=26, linespacing=0.9)

# annotations
ann = dict(arrowstyle='-|>', color='black', lw=1.5, mutation_scale=18, shrinkA=0, shrinkB=0)
ax = axes[1][0]
ax.text(2.28, 3.77, 'Rectified EMG', ha='center', va='center', family=SERIF, fontsize=17)
ax.annotate('', xy=(2.8, 2.42), xytext=(1.87, 3.45), arrowprops=ann, annotation_clip=False)
ax.text(6.05, 3.38, 'EMG$_{\\mathrm{RMS}}$', ha='center', va='center', family=SERIF, fontsize=17)
ax.annotate('', xy=(4.89, 0.6), xytext=(5.68, 3.21), arrowprops=ann, annotation_clip=False)

ax = axes[4][0]
ax.text(33, 4.35, 'MEP', ha='center', va='center', family=SERIF, fontsize=17)
ax.annotate('', xy=(77, 2.14), xytext=(40, 3.9), arrowprops=ann, annotation_clip=False)
ax.text(250, 3.32, 'EMG', ha='center', va='center', family=SERIF, fontsize=17)
ax.annotate('', xy=(212, 1.16), xytext=(249, 2.92), arrowprops=ann, annotation_clip=False)
ax.plot([73, 73, 176, 176], [-0.51, -0.97, -0.97, -0.51], color='black', linewidth=1.5)
ax.text(126, -1.46, 'cSP', ha='center', va='center', family=SERIF, fontsize=17)

# scale bars on the last column
bar_y = [-19.5, -0.45, -0.41, -0.036, -0.57, -1.6]
text_y = [-60, -0.84, -0.84, -0.072, -1.34, -3.35]
for r in range(6):
    ax = axes[r][3]
    if r < 4:
        x0, x1, lab = 7.0, 8.0, '1 s'
    else:
        x0, x1, lab = 281, 311, '30 ms'
    ax.plot([x0, x1], [bar_y[r], bar_y[r]], color='black', linewidth=2.2, clip_on=False)
    ax.text((x0 + x1) / 2 + (0 if r < 4 else 2), text_y[r], lab, ha='center', va='center',
            family=SERIF, weight='bold', fontsize=17)

fig.savefig('out.png', dpi=100)
